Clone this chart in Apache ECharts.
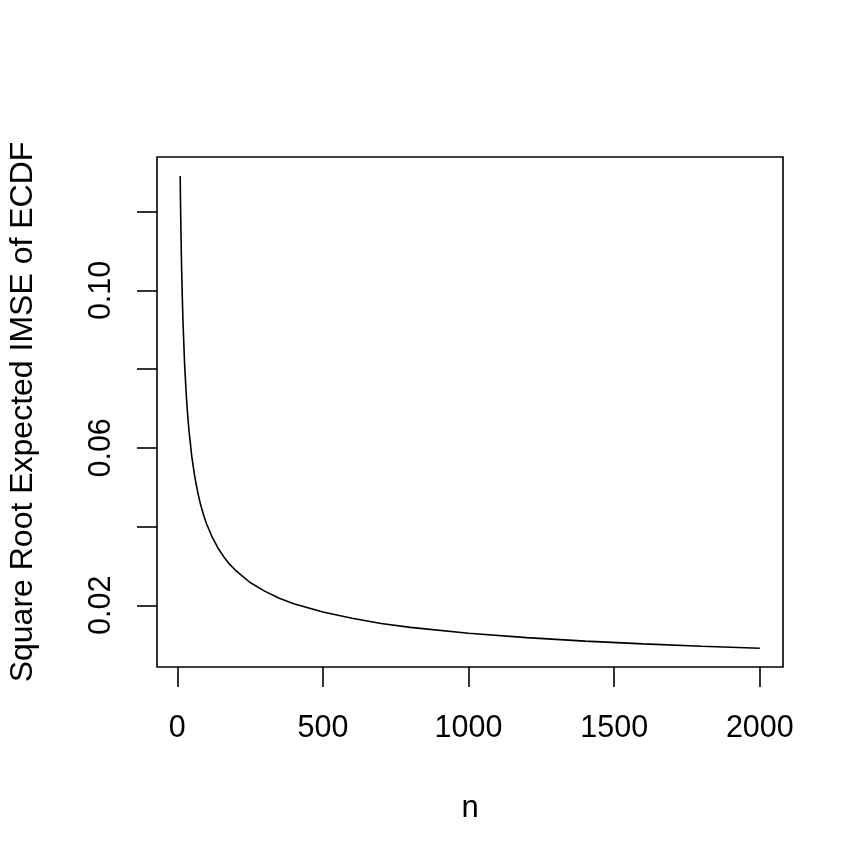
<!DOCTYPE html>
<html>
<head>
<meta charset="utf-8">
<script src="https://cdn.jsdelivr.net/npm/echarts@6/dist/echarts.min.js"></script>
<style>
html,body{margin:0;padding:0;background:#fff;}
#chart{width:864px;height:864px;}
</style>
</head>
<body>
<div id="chart"></div>
<script>
// Sample size n
var nValues = [10, 11, 12, 13, 15, 17, 20, 25, 30, 35, 40, 50, 60, 70, 80, 90, 100, 120, 140, 160, 180, 200, 250, 300, 350, 400, 500, 600, 700, 800, 1000, 1200, 1400, 1600, 1800, 2000];
// Square root expected IMSE of ECDF
var rmseValues = [0.1291, 0.1231, 0.1179, 0.1132, 0.1054, 0.0990, 0.0913, 0.0816, 0.0745, 0.0690, 0.0645, 0.0577, 0.0527, 0.0488, 0.0456, 0.0430, 0.0408, 0.0373, 0.0345, 0.0323, 0.0304, 0.0289, 0.0258, 0.0236, 0.0218, 0.0204, 0.0183, 0.0167, 0.0154, 0.0144, 0.0129, 0.0118, 0.0109, 0.0102, 0.0096, 0.0091];
var xTicks = [0, 500, 1000, 1500, 2000];
var yTicks = [0.02, 0.04, 0.06, 0.08, 0.10, 0.12];
var yLabels = [0.02, 0.06, 0.10];

var points = nValues.map(function (n, i) { return [n, rmseValues[i]]; });

var chart = echarts.init(document.getElementById('chart'), null, {renderer: 'canvas'});
var font = 'Liberation Sans, Arial, Helvetica, sans-serif';
chart.setOption({
  animation: false,
  backgroundColor: '#ffffff',
  grid: {
    left: 157, top: 157, width: 626, height: 510,
    containLabel: false, outerBoundsMode: 'none',
    show: true, borderColor: '#000', borderWidth: 1.6, backgroundColor: 'transparent'
  },
  xAxis: {
    type: 'value',
    min: -69.6, max: 2079.6,
    name: 'n',
    nameLocation: 'middle',
    nameGap: 126,
    nameTextStyle: {color: '#000', fontSize: 31, fontFamily: font},
    axisLine: {show: false, onZero: false},
    splitLine: {show: false},
    axisTick: {show: true, inside: false, length: 20, customValues: xTicks, lineStyle: {color: '#000', width: 1.6}},
    axisLabel: {
      show: true, customValues: xTicks, margin: 46,
      color: '#000', fontSize: 30.5, fontFamily: font,
      showMinLabel: true, showMaxLabel: true,
      formatter: function (v) { return String(Math.round(v)); }
    }
  },
  yAxis: {
    type: 'value',
    min: 0.00433, max: 0.1339,
    name: 'Square Root Expected IMSE of ECDF',
    nameLocation: 'middle',
    nameGap: 118,
    nameTextStyle: {color: '#000', fontSize: 32, fontFamily: font},
    axisLine: {show: false, onZero: false},
    splitLine: {show: false},
    axisTick: {show: true, inside: false, length: 20, customValues: yTicks, lineStyle: {color: '#000', width: 1.6}},
    axisLabel: {
      show: true, customValues: yLabels, margin: 40, rotate: 90,
      color: '#000', fontSize: 30.5, fontFamily: font,
      formatter: function (v) { return v.toFixed(2); }
    }
  },
  series: [{
    type: 'line',
    data: points,
    showSymbol: false,
    symbol: 'none',
    smooth: false,
    lineStyle: {color: '#000', width: 1.6},
    silent: true
  }]
});
</script>
</body>
</html>
